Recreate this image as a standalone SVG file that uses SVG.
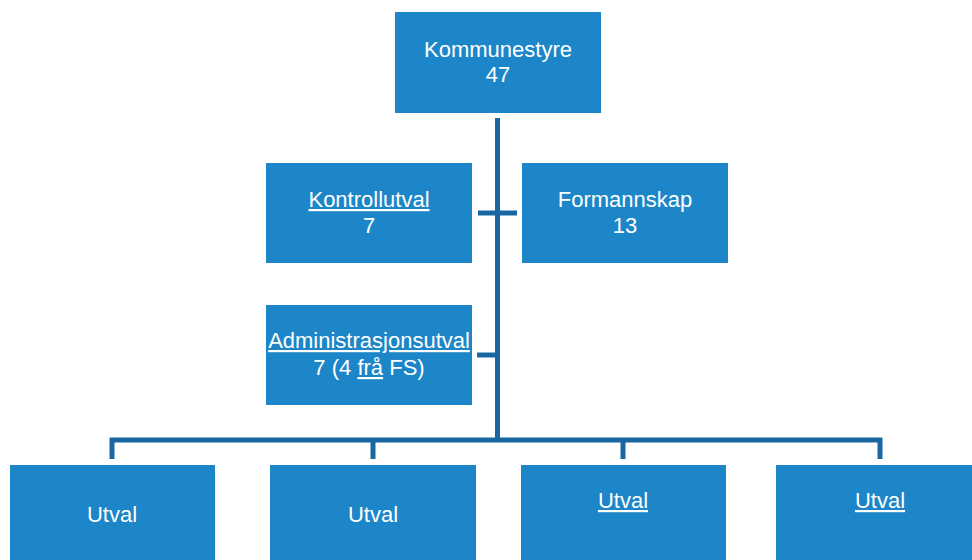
<svg xmlns="http://www.w3.org/2000/svg" width="972" height="560" viewBox="0 0 972 560">
<style>
.box{fill:#1c86c8;}
.t{font-family:"Liberation Sans",Arial,sans-serif;font-size:22px;fill:#ffffff;text-anchor:middle;}
.u{text-decoration:underline;}
.c{stroke:#1768a2;stroke-width:5;fill:none;}
</style>
<rect width="972" height="560" fill="#ffffff"/>
<g id="connectors">
<line class="c" x1="497.5" y1="118" x2="497.5" y2="440"/>
<line class="c" x1="478" y1="213" x2="517" y2="213"/>
<line class="c" x1="477" y1="355" x2="497.5" y2="355"/>
<polyline class="c" points="112,459 112,440 880,440 880,459"/>
<line class="c" x1="373" y1="440" x2="373" y2="459"/>
<line class="c" x1="623" y1="440" x2="623" y2="459"/>
</g>
<g id="kommunestyre">
<rect class="box" x="395" y="12" width="206" height="101"/>
<text class="t" x="498" y="57">Kommunestyre</text>
<text class="t" x="498" y="82">47</text>
</g>
<g id="kontrollutval">
<rect class="box" x="266" y="163" width="206" height="100"/>
<text class="t" x="369" y="207"><tspan class="u">Kontrollutval</tspan></text>
<text class="t" x="369" y="233">7</text>
</g>
<g id="formannskap">
<rect class="box" x="522" y="163" width="206" height="100"/>
<text class="t" x="625" y="207">Formannskap</text>
<text class="t" x="625" y="233">13</text>
</g>
<g id="administrasjonsutval">
<rect class="box" x="266" y="305" width="206" height="100"/>
<text class="t" x="369" y="348"><tspan class="u">Administrasjonsutval</tspan></text>
<text class="t" x="369" y="375">7 (4 <tspan class="u">frå</tspan> FS)</text>
</g>
<g id="utval1">
<rect class="box" x="10" y="465" width="205" height="95"/>
<text class="t" x="112" y="522">Utval</text>
</g>
<g id="utval2">
<rect class="box" x="270" y="465" width="206" height="95"/>
<text class="t" x="373" y="522">Utval</text>
</g>
<g id="utval3">
<rect class="box" x="521" y="465" width="205" height="95"/>
<text class="t" x="623" y="508"><tspan class="u">Utval</tspan></text>
</g>
<g id="utval4">
<rect class="box" x="776" y="465" width="196" height="95"/>
<text class="t" x="880" y="508"><tspan class="u">Utval</tspan></text>
</g>
</svg>
